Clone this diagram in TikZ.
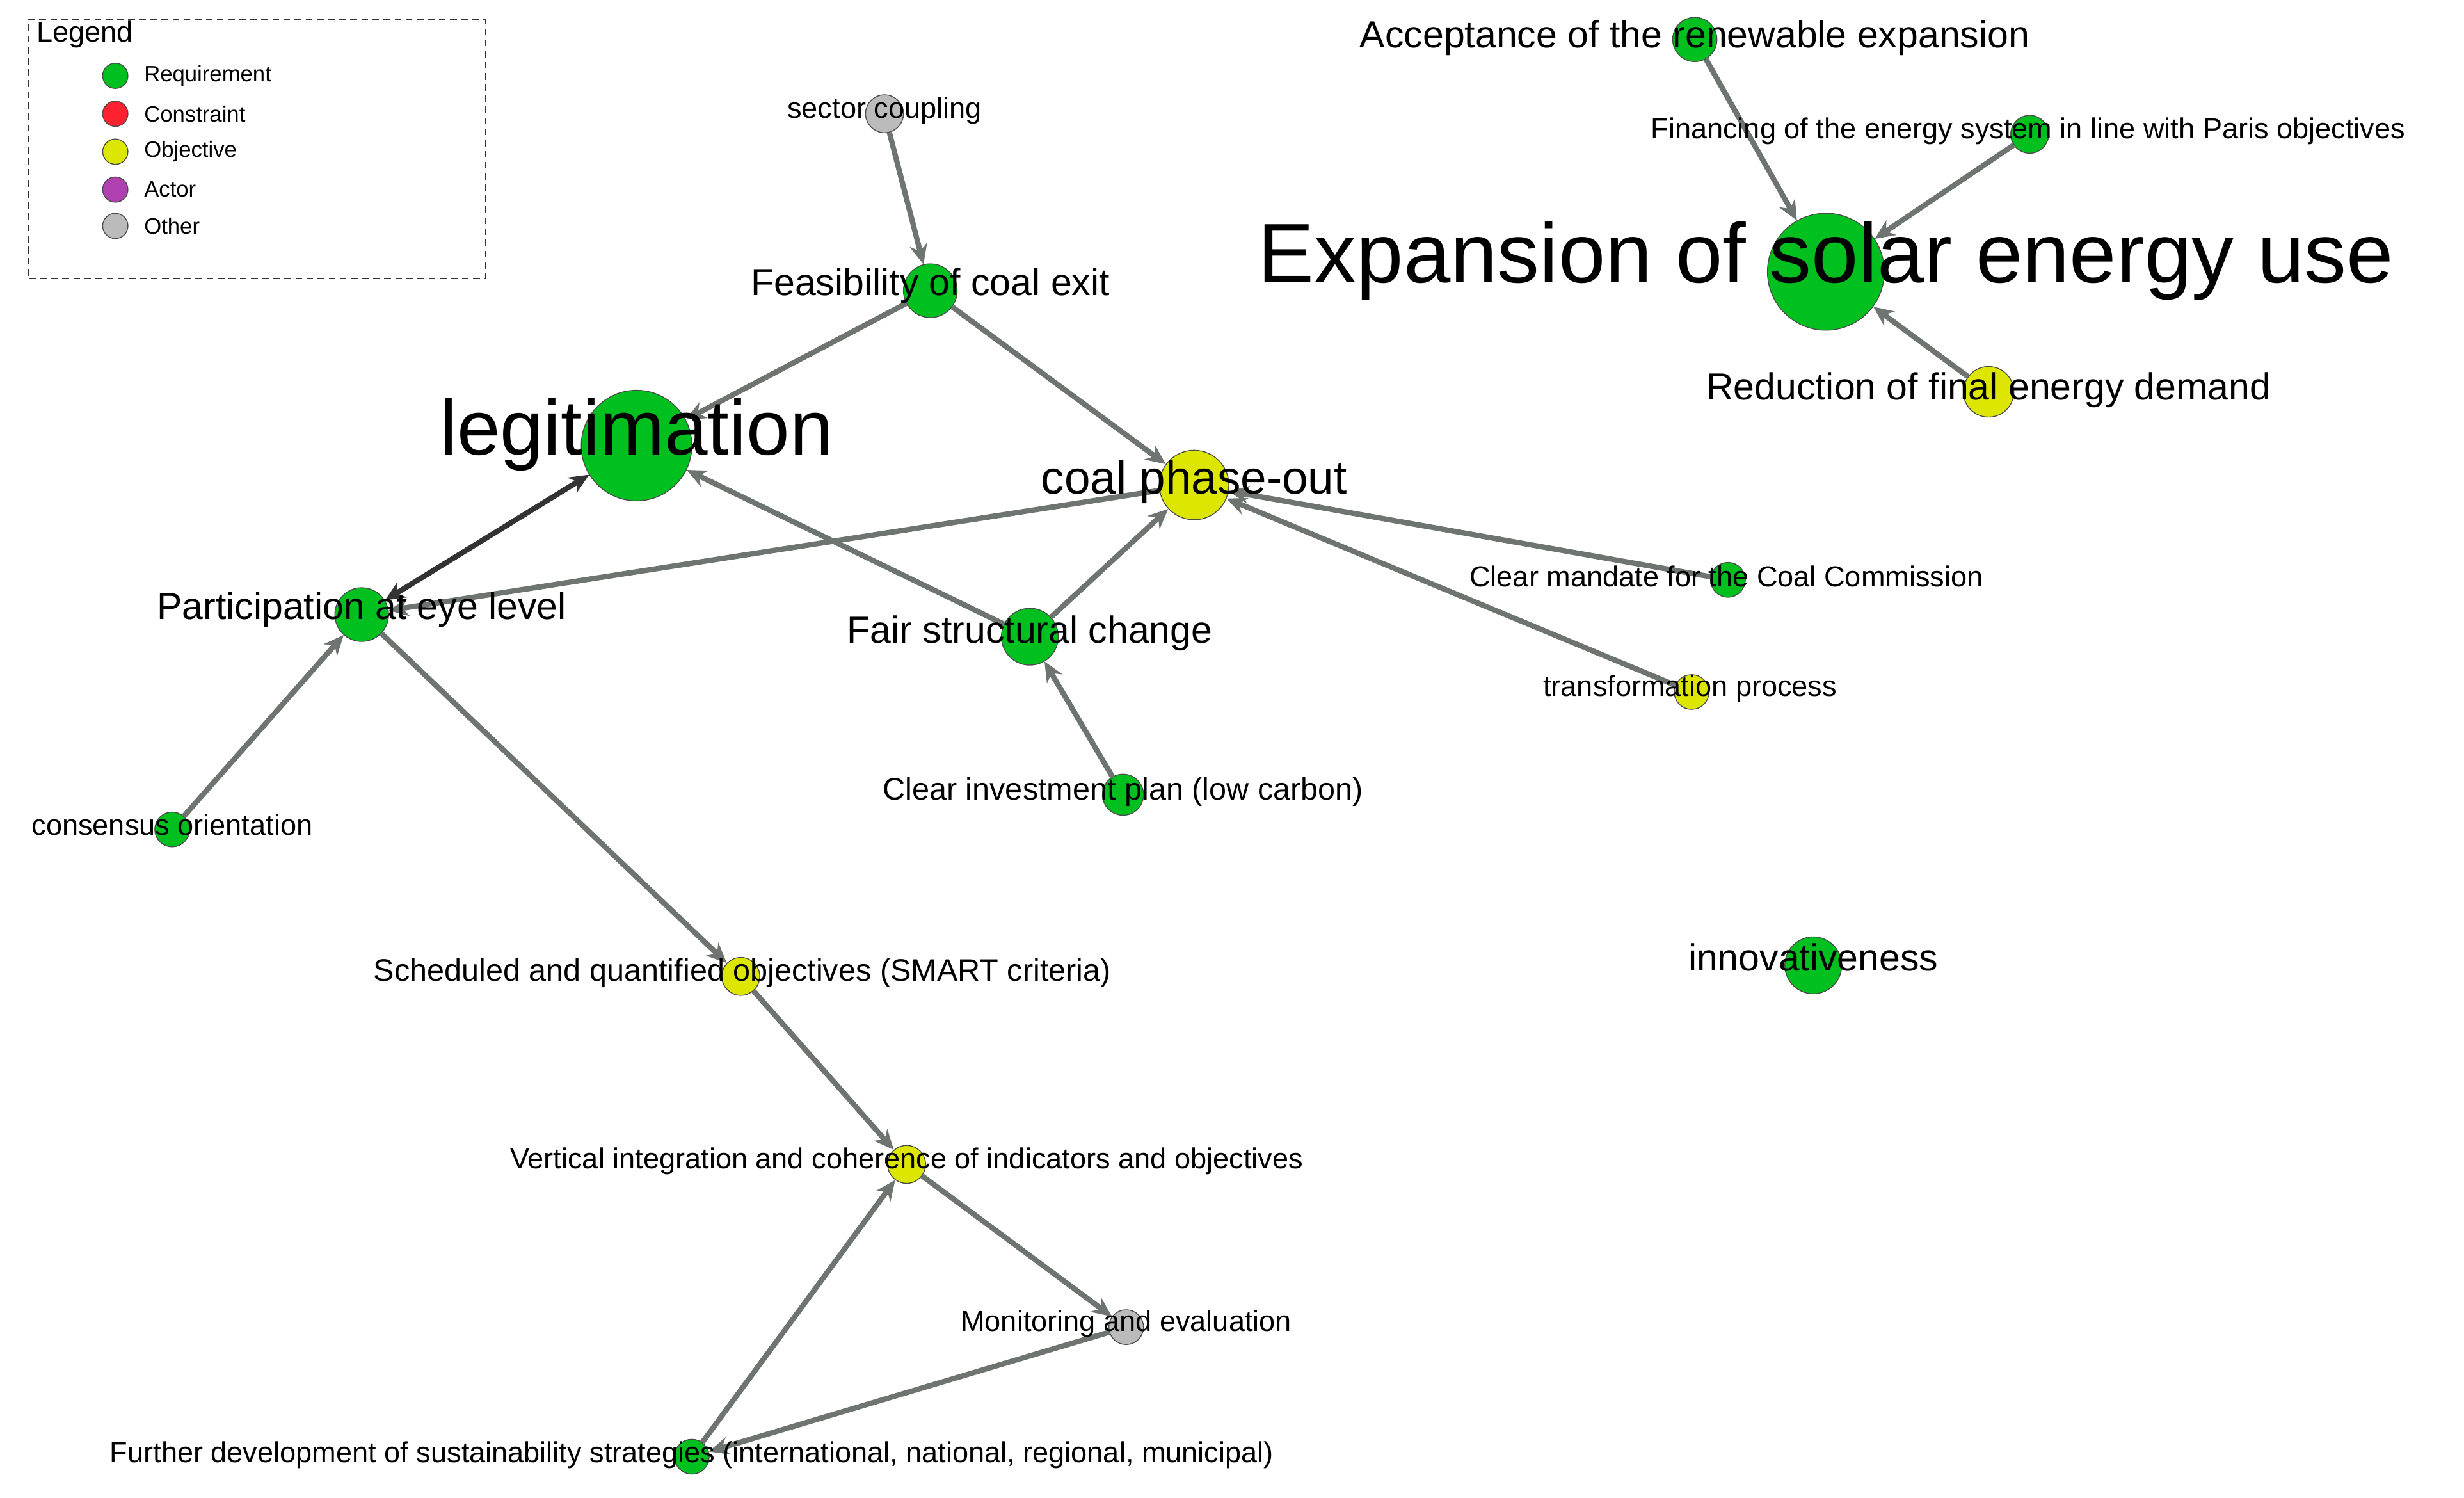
\documentclass[tikz,border=0pt]{standalone}
\usepackage{fontspec}
\setmainfont{Liberation Sans}
\usetikzlibrary{arrows.meta}
\definecolor{cg}{HTML}{00C020}
\definecolor{cy}{HTML}{DDE600}
\definecolor{co}{HTML}{BBBBBB}
\definecolor{cr}{HTML}{FF2030}
\definecolor{cp}{HTML}{B040B0}
\definecolor{ce}{HTML}{6E7570}
\tikzset{
 dot/.style={circle,draw=black!70,line width=0.4pt,inner sep=0pt,minimum size=#1},
 lab/.style={inner sep=0pt,text=black},
 edge/.style={draw=ce,line width=2.4pt,-{Stealth[length=9pt,width=8pt]}},
 dedge/.style={draw=black!80,line width=2.4pt,{Stealth[length=9pt,width=8pt]}-{Stealth[length=9pt,width=8pt]}},
 fa/.style={font=\fontsize{38}{40}\selectfont},
 fb/.style={font=\fontsize{35}{38}\selectfont},
 fc/.style={font=\fontsize{21}{24}\selectfont},
 fd/.style={font=\fontsize{17}{20}\selectfont},
 fe/.style={font=\fontsize{13}{15}\selectfont},
 ff/.style={font=\fontsize{10}{12}\selectfont},
}
\begin{document}
\begin{tikzpicture}[x=0.025cm,y=-0.025cm]
\useasboundingbox (0,0) rectangle (1560,948);
% circles
\node[dot=28*0.025cm,fill=cg] (acc) at (1073,25) {};
\node[dot=24*0.025cm,fill=cg] (fin) at (1285,85) {};
\node[dot=74*0.025cm,fill=cg] (sol) at (1156,172) {};
\node[dot=32*0.025cm,fill=cy] (red) at (1259,248) {};
\node[dot=24*0.025cm,fill=co] (sec) at (560,72) {};
\node[dot=34*0.025cm,fill=cg] (fea) at (589,184) {};
\node[dot=70*0.025cm,fill=cg] (leg) at (403,282) {};
\node[dot=44*0.025cm,fill=cy] (coal) at (756,307) {};
\node[dot=34*0.025cm,fill=cg] (par) at (229,389) {};
\node[dot=36*0.025cm,fill=cg] (fair) at (652,403) {};
\node[dot=22*0.025cm,fill=cg] (man) at (1094,367) {};
\node[dot=22*0.025cm,fill=cy] (tra) at (1071,438) {};
\node[dot=26*0.025cm,fill=cg] (inv) at (711,503) {};
\node[dot=22*0.025cm,fill=cg] (con) at (109,525) {};
\node[dot=36*0.025cm,fill=cg] (inn) at (1148,611) {};
\node[dot=24*0.025cm,fill=cy] (sch) at (469,618) {};
\node[dot=24*0.025cm,fill=cy] (ver) at (574,737) {};
\node[dot=22*0.025cm,fill=co] (mon) at (713,840) {};
\node[dot=22*0.025cm,fill=cg] (fur) at (438,922) {};
% edges
\draw[edge] (acc) -- (sol);
\draw[edge] (fin) -- (sol);
\draw[edge] (red) -- (sol);
\draw[edge] (sec) -- (fea);
\draw[edge] (fea) -- (leg);
\draw[edge] (fea) -- (coal);
\draw[edge] (coal) -- (par);
\draw[dedge] (par) -- (leg);
\draw[edge] (fair) -- (leg);
\draw[edge] (fair) -- (coal);
\draw[edge] (man) -- (coal);
\draw[edge] (tra) -- (coal);
\draw[edge] (inv) -- (fair);
\draw[edge] (con) -- (par);
\draw[edge] (par) -- (sch);
\draw[edge] (sch) -- (ver);
\draw[edge] (ver) -- (mon);
\draw[edge] (mon) -- (fur);
\draw[edge] (fur) -- (ver);
% labels
\node[lab,fd] (accL) at (1073,24) {Acceptance of the renewable expansion};
\node[lab,fe] (finL) at (1284,83) {Financing of the energy system in line with Paris objectives};
\node[lab,fa] (solL) at (1156,165) {Expansion of solar energy use};
\node[lab,fd] (redL) at (1259,247) {Reduction of final energy demand};
\node[lab,fe] (secL) at (560,70) {sector coupling};
\node[lab,fd] (feaL) at (589,181) {Feasibility of coal exit};
\node[lab,fb] (legL) at (403,275) {legitimation};
\node[lab,fc] (coalL) at (756,305) {coal phase-out};
\node[lab,fd] (parL) at (229,386) {Participation at eye level};
\node[lab,fd] (fairL) at (652,401) {Fair structural change};
\node[lab,fe] (manL) at (1093,365) {Clear mandate for the Coal Commission};
\node[lab,fe] (traL) at (1070,436) {transformation process};
\node[lab,fe,font=\fontsize{14}{16}\selectfont] (invL) at (711,501) {Clear investment plan (low carbon)};
\node[lab,fe] (conL) at (109,522) {consensus orientation};
\node[lab,fd] (innL) at (1148,606) {innovativeness};
\node[lab,fe,font=\fontsize{14}{16}\selectfont] (schL) at (470,616) {Scheduled and quantified objectives (SMART criteria)};
\node[lab,fe] (verL) at (574,735) {Vertical integration and coherence of indicators and objectives};
\node[lab,fe] (monL) at (713,838) {Monitoring and evaluation};
\node[lab,fe] (furL) at (438,921) {Further development of sustainability strategies (international, national, regional, municipal)};
% legend
\node[draw=black!80,densely dashed,line width=0.4pt,minimum width=289*0.025cm,minimum height=164*0.025cm,anchor=north west,inner sep=0pt] (lgbox) at (18,12) {};
\node[lab,anchor=west,font=\fontsize{13}{15}\selectfont] (lgt) at (23,22) {Legend};
\foreach \c/\t/\y [count=\i] in {cg/Requirement/48,cr/Constraint/72,cy/Objective/96,cp/Actor/120,co/Other/143}{
 \node[dot=16*0.025cm,fill=\c] (lg\i) at (73,\y) {};
 \node[lab,anchor=west,ff] (lgl\i) at (91,\y) {\t};
}
\end{tikzpicture}
\end{document}
